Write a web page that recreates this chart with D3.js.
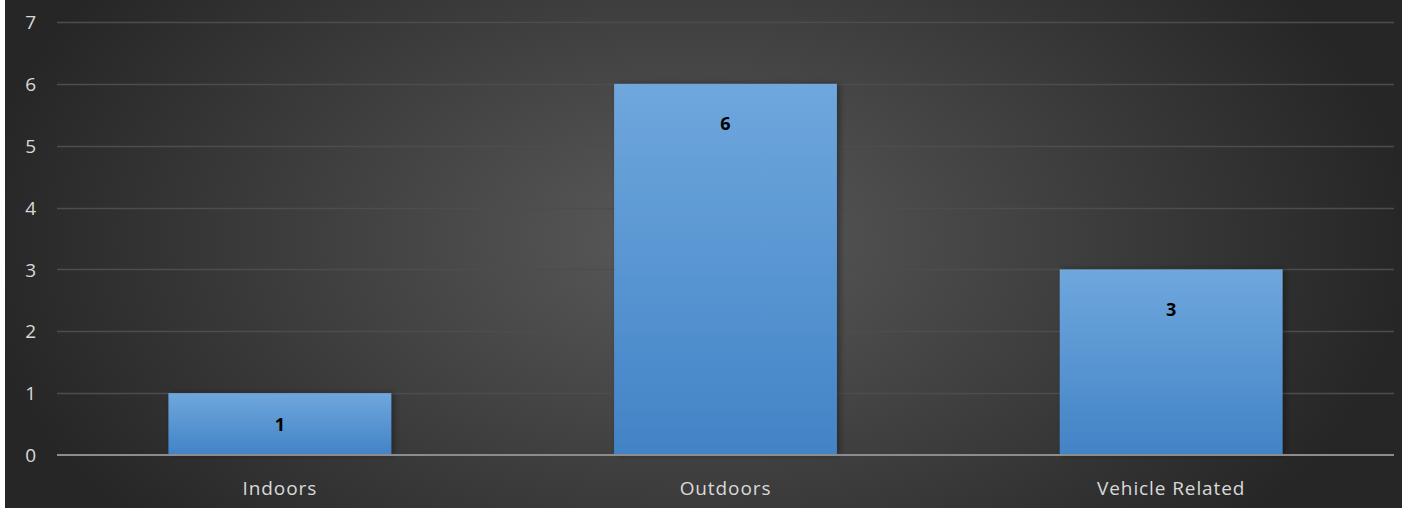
<!DOCTYPE html>
<html><head><meta charset="utf-8">
<script src="https://cdn.jsdelivr.net/npm/d3@7"></script>
<style>html,body{margin:0;padding:0;background:#fff;overflow:hidden}</style>
</head><body>
<svg id="chart" width="1403" height="508"></svg>
<script>
const categories = ["Indoors", "Outdoors", "Vehicle Related"];
const values = [1, 6, 3];
const yTicks = [0, 1, 2, 3, 4, 5, 6, 7];

const W = 1403, H = 508;
const svg = d3.select("#chart");
const defs = svg.append("defs");

const bg = defs.append("radialGradient").attr("id", "bg")
  .attr("gradientUnits", "userSpaceOnUse")
  .attr("cx", 690).attr("cy", 240).attr("r", 720)
  .attr("gradientTransform", "translate(690,240) scale(1,0.62) translate(-690,-240)");
bg.append("stop").attr("offset", "0%").attr("stop-color", "#5a5a5a");
bg.append("stop").attr("offset", "100%").attr("stop-color", "#262626");

const bar = defs.append("linearGradient").attr("id", "bar").attr("x1", 0).attr("y1", 0).attr("x2", 0).attr("y2", 1);
bar.append("stop").attr("offset", "0%").attr("stop-color", "#6fa7dd");
bar.append("stop").attr("offset", "100%").attr("stop-color", "#4283c6");

const sh = defs.append("filter").attr("id", "sh").attr("x", "-10%").attr("y", "-10%").attr("width", "125%").attr("height", "125%");
sh.append("feDropShadow").attr("dx", 3).attr("dy", 0).attr("stdDeviation", 3).attr("flood-color", "#000").attr("flood-opacity", 0.35);

svg.append("rect").attr("x", 0).attr("y", 0).attr("width", W).attr("height", H).attr("fill", "#ffffff");
svg.append("rect").attr("x", 5).attr("y", 0).attr("width", W - 6).attr("height", H).attr("fill", "url(#bg)");

const x0 = 57, x1 = 1394;
const x = d3.scaleBand().domain(categories).range([x0, x1]).paddingInner(0.5).paddingOuter(0.25);
const y = d3.scaleLinear().domain([0, 7]).range([455, 22]);

const font = "'Open Sans', 'Noto Sans', sans-serif";

// gridlines
svg.append("g").selectAll("line").data(yTicks.filter(d => d > 0)).join("line")
  .attr("x1", x0).attr("x2", x1)
  .attr("y1", d => Math.round(y(d)) + 0.5).attr("y2", d => Math.round(y(d)) + 0.5)
  .attr("stroke", "#4d4d4d").attr("stroke-width", 1.5);

// y axis labels
const yAxis = d3.axisLeft(y).tickValues(yTicks).tickSize(0).tickPadding(0).tickFormat(d3.format("d"));
const gy = svg.append("g").attr("transform", "translate(36,0)").call(yAxis);
gy.select(".domain").remove();
gy.selectAll("text").attr("fill", "#d9d9d9").attr("font-size", 19).attr("font-family", font).attr("dy", "0.35em");

// bars
svg.append("g").selectAll("rect").data(values).join("rect")
  .attr("x", (d, i) => x(categories[i]))
  .attr("width", x.bandwidth())
  .attr("y", d => y(d))
  .attr("height", d => y(0) - y(d))
  .attr("fill", "url(#bar)")
  .attr("filter", "url(#sh)");

// baseline
svg.append("line").attr("x1", x0).attr("x2", x1)
  .attr("y1", y(0)).attr("y2", y(0))
  .attr("stroke", "#8c8c8c").attr("stroke-width", 2);

// data labels
svg.append("g").selectAll("text").data(values).join("text")
  .attr("x", (d, i) => x(categories[i]) + x.bandwidth() / 2)
  .attr("y", d => Math.min(y(d) + 40, (y(d) + y(0)) / 2 + 1))
  .attr("dy", "0.35em")
  .attr("text-anchor", "middle")
  .attr("font-family", font).attr("font-weight", "bold").attr("font-size", 18)
  .attr("fill", "#000")
  .text(d => d);

// x axis labels
const xAxis = d3.axisBottom(x).tickSize(0).tickPadding(0);
const gx = svg.append("g").attr("transform", "translate(0,488)").call(xAxis);
gx.select(".domain").remove();
gx.selectAll("text").attr("fill", "#d9d9d9").attr("font-size", 19).attr("letter-spacing", 0.9)
  .attr("font-family", font).attr("dy", "0.35em");
</script>
</body></html>
